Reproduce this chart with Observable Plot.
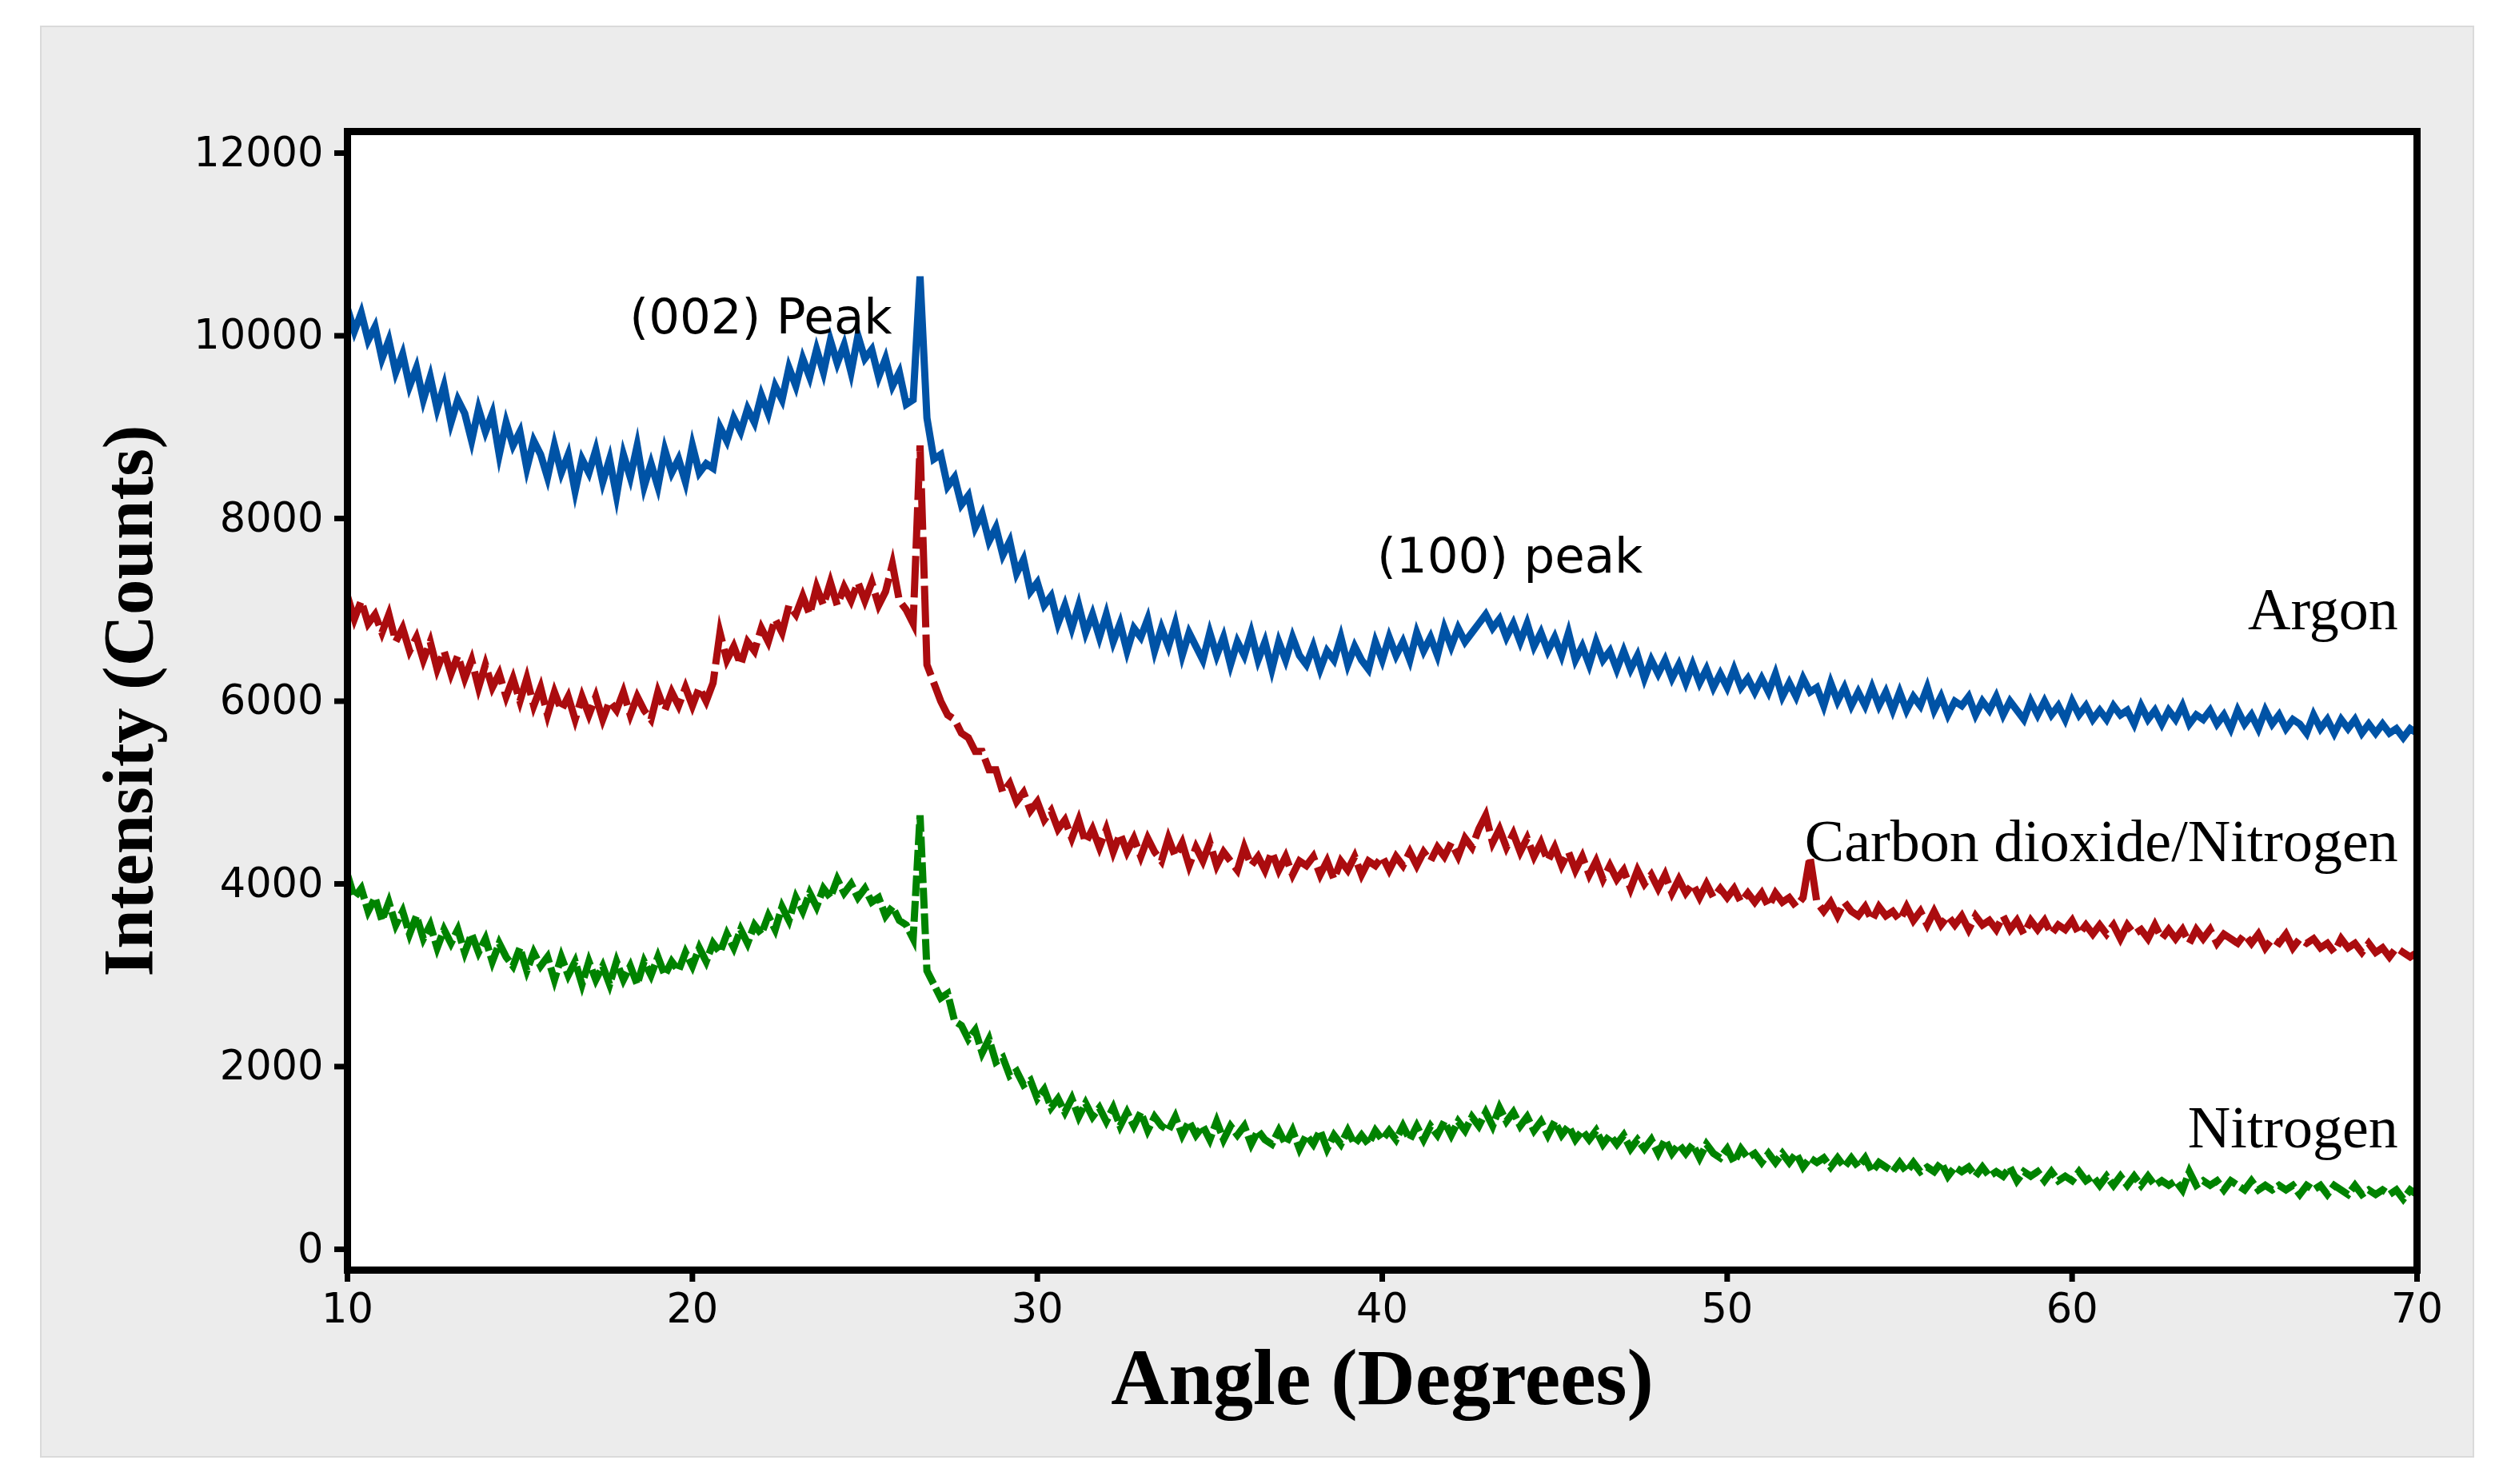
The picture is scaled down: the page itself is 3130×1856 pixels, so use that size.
<!DOCTYPE html>
<html><head><meta charset="utf-8">
<script src="https://cdn.jsdelivr.net/npm/d3@7"></script>
<script src="https://cdn.jsdelivr.net/npm/@observablehq/plot@0.6"></script>
<style>
html,body{margin:0;padding:0;background:#fff;}
#wrap{position:relative;width:3130px;height:1856px;overflow:hidden;}
#panel{position:absolute;left:50px;top:32px;width:3040px;height:1787px;background:#ececec;border:2px solid #dadada;}
#chart{position:absolute;left:0;top:0;}
</style></head><body>
<div id="wrap"><div id="panel"></div><div id="chart"></div></div>
<script>
// Sampling grid of the diffraction scans (degrees 2θ): 10.0 → 70.0 every 0.2°
const angleStart = 10, angleStep = 0.2;

// Argon (blue), one row per degree (x.0, x.2, x.4, x.6, x.8)
const argon = [
10300,10050,10250,9950,10100,
9750,9950,9600,9800,9450,
9650,9300,9550,9200,9450,
9050,9300,9150,8850,9200,
8950,9150,8700,9050,8800,
8950,8550,8850,8700,8450,
8800,8500,8700,8300,8650,
8500,8750,8400,8650,8250,
8700,8450,8800,8350,8600,
8350,8750,8500,8650,8400,
8800,8500,8600,8550,9000,
8850,9100,8950,9200,9050,
9350,9150,9450,9300,9650,
9450,9750,9550,9850,9600,
9950,9700,9900,9600,10000,
9750,9850,9550,9750,9450,
9600,9250,9300,10650,9100,
8650,8700,8350,8450,8150,
8250,7900,8050,7750,7900,
7600,7750,7400,7550,7200,
7300,7050,7150,6850,7050,
6800,7050,6750,6950,6700,
6950,6650,6850,6550,6800,
6700,6900,6550,6800,6600,
6850,6500,6750,6600,6450,
6750,6500,6700,6400,6650,
6500,6750,6450,6650,6350,
6650,6450,6700,6500,6400,
6600,6350,6550,6450,6700,
6400,6600,6450,6350,6650,
6450,6700,6500,6650,6450,
6750,6550,6700,6500,6800,
6600,6800,6650,6750,6850,
6950,6800,6900,6700,6850,
6650,6850,6600,6750,6550,
6700,6500,6750,6450,6600,
6400,6650,6450,6550,6350,
6550,6350,6500,6250,6450,
6300,6450,6250,6400,6200,
6400,6200,6350,6150,6300,
6150,6350,6150,6250,6100,
6250,6100,6300,6050,6200,
6050,6250,6100,6150,5950,
6200,6000,6150,5950,6100,
5950,6150,5950,6100,5900,
6100,5900,6050,5950,6150,
5900,6050,5850,6000,5950,
6050,5850,6000,5900,6050,
5850,6000,5900,5800,6000,
5850,6000,5850,5950,5800,
6000,5850,5950,5800,5900,
5800,5950,5850,5900,5750,
5950,5800,5900,5750,5900,
5800,5950,5750,5850,5800,
5900,5750,5850,5700,5900,
5750,5850,5700,5900,5750,
5850,5700,5800,5750,5650,
5850,5700,5800,5650,5800,
5700,5800,5650,5750,5650,
5750,5650,5700,5600,5700,
5650];

// Carbon dioxide/Nitrogen (red)
const co2n2 = [
7150,6900,7100,6850,6950,
6750,6950,6650,6800,6550,
6700,6450,6650,6350,6550,
6300,6500,6250,6450,6150,
6400,6150,6300,6050,6250,
6000,6250,5950,6150,5850,
6100,5900,6050,5800,6050,
5850,6050,5800,6000,5900,
6100,5850,6050,5900,5800,
6100,5900,6100,5950,6150,
5950,6150,6000,6200,6750,
6450,6600,6400,6650,6550,
6800,6650,6900,6750,7050,
6950,7150,6950,7250,7050,
7300,7050,7250,7100,7300,
7100,7300,7050,7200,7500,
7100,7000,6850,8800,6400,
6200,6000,5850,5800,5650,
5600,5450,5450,5250,5250,
5000,5100,4900,5000,4800,
4900,4700,4800,4600,4700,
4500,4700,4450,4600,4400,
4600,4350,4550,4350,4500,
4300,4500,4350,4250,4500,
4300,4450,4200,4400,4250,
4450,4200,4350,4250,4150,
4400,4200,4300,4150,4350,
4150,4300,4100,4250,4200,
4300,4100,4250,4050,4250,
4150,4300,4100,4250,4200,
4300,4150,4300,4200,4350,
4200,4350,4250,4400,4300,
4450,4300,4500,4400,4600,
4750,4450,4600,4400,4550,
4350,4500,4300,4450,4250,
4400,4200,4350,4150,4300,
4100,4250,4050,4200,4050,
4150,3950,4150,4000,4100,
3950,4100,3900,4050,3900,
4000,3850,4000,3850,3950,
3850,3950,3800,3900,3800,
3900,3750,3900,3800,3850,
3750,3850,4300,3800,3700,
3800,3650,3800,3700,3650,
3750,3600,3750,3650,3700,
3600,3750,3600,3700,3550,
3700,3550,3650,3550,3650,
3500,3650,3550,3600,3500,
3650,3500,3600,3450,3600,
3500,3600,3450,3550,3500,
3600,3450,3550,3450,3550,
3450,3550,3400,3550,3450,
3500,3400,3550,3400,3500,
3400,3500,3350,3500,3400,
3500,3350,3450,3400,3350,
3450,3350,3450,3300,3400,
3350,3450,3300,3400,3350,
3400,3300,3350,3250,3400,
3300,3350,3250,3350,3250,
3300,3200,3300,3250,3200,
3250];

// Nitrogen (green)
const nitrogen = [
4100,3850,3950,3700,3850,
3600,3800,3550,3700,3450,
3650,3400,3550,3300,3500,
3350,3500,3250,3450,3250,
3400,3150,3350,3200,3100,
3300,3050,3250,3100,3200,
2950,3200,3000,3150,2900,
3150,2950,3100,2900,3150,
2950,3100,2900,3150,3000,
3200,3000,3150,3050,3250,
3100,3300,3150,3350,3250,
3450,3300,3500,3350,3550,
3450,3650,3500,3750,3600,
3850,3700,3900,3750,3950,
3850,4050,3900,4000,3850,
3950,3800,3850,3650,3750,
3600,3550,3400,4750,3050,
2900,2750,2800,2500,2450,
2300,2400,2150,2300,2050,
2100,1900,1950,1800,1850,
1650,1750,1550,1650,1500,
1650,1450,1600,1450,1550,
1400,1550,1350,1500,1350,
1500,1300,1450,1350,1300,
1450,1250,1400,1250,1350,
1200,1400,1200,1350,1250,
1350,1150,1300,1200,1150,
1300,1150,1300,1100,1250,
1150,1300,1100,1250,1150,
1300,1150,1250,1150,1300,
1200,1300,1200,1350,1200,
1350,1200,1350,1250,1400,
1250,1400,1300,1450,1350,
1500,1350,1550,1400,1500,
1350,1450,1300,1400,1250,
1400,1250,1350,1200,1300,
1200,1300,1150,1250,1150,
1250,1100,1200,1100,1200,
1050,1200,1050,1150,1050,
1150,1000,1150,1050,1000,
1100,950,1100,1000,1050,
950,1050,950,1050,950,
1050,900,1000,950,1000,
900,1000,900,1000,900,
1000,850,950,900,850,
950,850,950,850,900,
850,950,800,900,850,
900,800,900,800,850,
800,900,750,850,800,
850,750,850,750,800,
750,850,750,800,700,
800,700,800,700,800,
700,800,700,750,700,
750,650,850,700,750,
700,750,650,750,700,
650,750,650,700,650,
700,650,700,600,700,
650,700,600,700,650,
600,700,600,650,600,
650,600,650,550,650,
600];

const xTicks = [10, 20, 30, 40, 50, 60, 70];
const yTicks = [0, 2000, 4000, 6000, 8000, 10000, 12000];

const peakLabels = ["(002) Peak", "(100) peak"];
const peakAngles = [18.18, 39.85];
const peakCounts = [10030, 7410];

const seriesNames = ["Argon", "Carbon dioxide/Nitrogen", "Nitrogen"];
const seriesColors = ["#0053a6", "#ab0c0f", "#008300"];
const nameAngle = 69.45;
const nameCounts = [6790, 4245, 1112];

const toRows = (vals) => vals.map((v, i) => ({angle: angleStart + i * angleStep, counts: v}));
const peaks = peakLabels.map((t, i) => ({t, x: peakAngles[i], y: peakCounts[i]}));
const names = seriesNames.map((t, i) => ({t, x: nameAngle, y: nameCounts[i]}));

const serif = "'Liberation Serif','Times New Roman',serif";
const sans = "'DejaVu Sans',Verdana,sans-serif";
const lineOpts = {x: "angle", y: "counts", strokeWidth: 9, strokeLinejoin: "miter", strokeMiterlimit: 10, strokeLinecap: "butt"};

const chart = Plot.plot({
  width: 3130, height: 1856,
  marginLeft: 434, marginRight: 108, marginTop: 164, marginBottom: 268,
  x: {domain: [10, 70]},
  y: {domain: [-228, 12236]},
  style: {background: "transparent", fontFamily: sans, fontSize: "51px", color: "black"},
  marks: [
    Plot.frame({fill: "white", stroke: null}),
    Plot.lineY(toRows(nitrogen), {...lineOpts, stroke: seriesColors[2], strokeDasharray: "26,6"}),
    Plot.lineY(toRows(co2n2), {...lineOpts, stroke: seriesColors[1], strokeDasharray: "52,9"}),
    Plot.lineY(toRows(argon), {...lineOpts, stroke: seriesColors[0]}),
    Plot.axisX({ticks: xTicks, tickSize: 15, tickPadding: 14, strokeWidth: 7, fontSize: 51, label: null, tickFormat: d => String(d)}),
    Plot.axisY({ticks: yTicks, tickSize: 16, tickPadding: 14, strokeWidth: 7, fontSize: 51, label: null, tickFormat: d => String(d)}),
    Plot.frame({stroke: "black", strokeWidth: 9}),
    Plot.text(peaks, {x: "x", y: "y", text: "t", textAnchor: "start", lineAnchor: "bottom", fontSize: 61, fontFamily: sans, fill: "black"}),
    Plot.text(names, {x: "x", y: "y", text: "t", textAnchor: "end", lineAnchor: "bottom", fontSize: 74, fontFamily: serif, fill: "black"}),
    Plot.text(["Angle (Degrees)"], {frameAnchor: "bottom", dy: 167, lineAnchor: "bottom", textAnchor: "middle", fontSize: 100, fontWeight: "bold", fontFamily: serif, fill: "black"}),
    Plot.text(["Intensity (Counts)"], {frameAnchor: "left", dx: -245, rotate: -90, lineAnchor: "bottom", textAnchor: "middle", fontSize: 89, fontWeight: "bold", fontFamily: serif, fill: "black"})
  ]
});
document.getElementById("chart").appendChild(chart);
</script>
</body></html>
